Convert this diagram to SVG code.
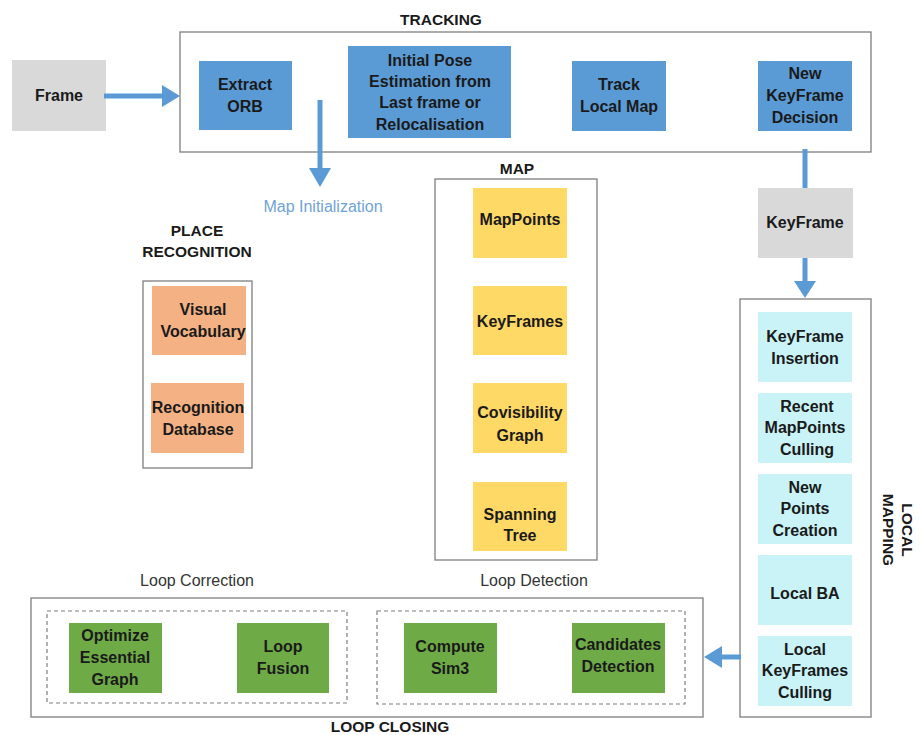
<svg xmlns="http://www.w3.org/2000/svg" width="921" height="735" viewBox="0 0 921 735">
<style>
text{font-family:"Liberation Sans",Arial,sans-serif;fill:#1a1a1a}
.b{font-weight:bold;font-size:16px;text-anchor:middle}
.h{font-weight:bold;font-size:15.5px;text-anchor:middle}
.r{font-size:16px;text-anchor:middle;fill:#333}
.frame{fill:none;stroke:#7f7f7f;stroke-width:1.3}
.dash{fill:none;stroke:#7f7f7f;stroke-width:1.2;stroke-dasharray:4 3}
.blue{fill:#5b9bd5}
.gray{fill:#d9d9d9}
.yel{fill:#ffd966}
.sal{fill:#f4b183}
.cyan{fill:#c9f3f7}
.green{fill:#6eab46}
.arr{stroke:#5b9bd5;stroke-width:5;fill:none}
.ah{fill:#5b9bd5}
</style>

<!-- containers -->
<g id="tracking">
<rect class="frame" x="180" y="32" width="691" height="120"/>
<text class="h" x="441" y="25">TRACKING</text>
</g>
<g id="map">
<rect class="frame" x="435" y="179" width="162" height="381"/>
<text class="h" x="517" y="174">MAP</text>
</g>
<g id="place-recognition">
<rect class="frame" x="143" y="281" width="109" height="187"/>
<text class="h" x="197" y="236">PLACE</text>
<text class="h" x="197" y="257">RECOGNITION</text>
</g>
<g id="local-mapping">
<rect class="frame" x="740" y="299" width="131" height="418"/>
<text class="h" transform="translate(907,530) rotate(90)" y="5">LOCAL</text>
<text class="h" transform="translate(888,530) rotate(90)" y="5">MAPPING</text>
</g>
<g id="loop-closing">
<rect class="frame" x="31" y="598" width="672" height="119"/>
<text class="h" x="390" y="732">LOOP CLOSING</text>
</g>
<g id="loop-correction">
<rect class="dash" x="47" y="611" width="300" height="92"/>
<text class="r" x="197" y="586">Loop Correction</text>
</g>
<g id="loop-detection">
<rect class="dash" x="377" y="611" width="308" height="93"/>
<text class="r" x="534" y="586">Loop Detection</text>
</g>

<!-- nodes -->
<g id="frame"><rect class="gray" x="12" y="60" width="94" height="71"/><text class="b" x="59" y="101">Frame</text></g>
<g id="extract-orb"><rect class="blue" x="199" y="61" width="93" height="69"/><text class="b" x="245" y="90">Extract</text><text class="b" x="245" y="112">ORB</text></g>
<g id="initial-pose"><rect class="blue" x="348" y="46" width="163" height="92"/>
<text class="b" x="430" y="66">Initial Pose</text><text class="b" x="430" y="87">Estimation from</text><text class="b" x="430" y="108">Last frame or</text><text class="b" x="430" y="130">Relocalisation</text></g>
<g id="track-local-map"><rect class="blue" x="572" y="61" width="94" height="70"/><text class="b" x="619" y="90">Track</text><text class="b" x="619" y="112">Local Map</text></g>
<g id="new-keyframe-decision"><rect class="blue" x="758" y="61" width="94" height="70"/><text class="b" x="805" y="79">New</text><text class="b" x="805" y="101">KeyFrame</text><text class="b" x="805" y="123">Decision</text></g>
<g id="keyframe"><rect class="gray" x="758" y="188" width="95" height="70"/><text class="b" x="805" y="228">KeyFrame</text></g>

<g id="mappoints"><rect class="yel" x="473" y="188" width="94" height="70"/><text class="b" x="520" y="225">MapPoints</text></g>
<g id="keyframes"><rect class="yel" x="473" y="286" width="94" height="69"/><text class="b" x="520" y="327">KeyFrames</text></g>
<g id="covisibility"><rect class="yel" x="473" y="383" width="94" height="70"/><text class="b" x="520" y="418">Covisibility</text><text class="b" x="520" y="441">Graph</text></g>
<g id="spanning-tree"><rect class="yel" x="473" y="482" width="94" height="69"/><text class="b" x="520" y="520">Spanning</text><text class="b" x="520" y="541">Tree</text></g>

<g id="visual-vocabulary"><rect class="sal" x="152" y="286" width="94" height="69"/><text class="b" x="203" y="315">Visual</text><text class="b" x="203" y="337">Vocabulary</text></g>
<g id="recognition-database"><rect class="sal" x="151" y="383" width="93" height="70"/><text class="b" x="198" y="413">Recognition</text><text class="b" x="198" y="435">Database</text></g>

<g id="keyframe-insertion"><rect class="cyan" x="758" y="312" width="94" height="70"/><text class="b" x="805" y="342">KeyFrame</text><text class="b" x="805" y="364">Insertion</text></g>
<g id="recent-mappoints-culling"><rect class="cyan" x="758" y="393" width="94" height="70"/><text class="b" x="807" y="412">Recent</text><text class="b" x="805" y="433">MapPoints</text><text class="b" x="807" y="455">Culling</text></g>
<g id="new-points-creation"><rect class="cyan" x="758" y="474" width="94" height="70"/><text class="b" x="805" y="493">New</text><text class="b" x="805" y="514">Points</text><text class="b" x="805" y="536">Creation</text></g>
<g id="local-ba"><rect class="cyan" x="758" y="555" width="94" height="70"/><text class="b" x="805" y="599">Local BA</text></g>
<g id="local-keyframes-culling"><rect class="cyan" x="758" y="636" width="94" height="70"/><text class="b" x="805" y="655">Local</text><text class="b" x="805" y="676">KeyFrames</text><text class="b" x="805" y="698">Culling</text></g>

<g id="optimize-essential-graph"><rect class="green" x="69" y="623" width="93" height="70"/><text class="b" x="115" y="641">Optimize</text><text class="b" x="115" y="663">Essential</text><text class="b" x="115" y="685">Graph</text></g>
<g id="loop-fusion"><rect class="green" x="237" y="623" width="92" height="70"/><text class="b" x="283" y="652">Loop</text><text class="b" x="283" y="674">Fusion</text></g>
<g id="compute-sim3"><rect class="green" x="404" y="623" width="93" height="70"/><text class="b" x="450" y="652">Compute</text><text class="b" x="450" y="674">Sim3</text></g>
<g id="candidates-detection"><rect class="green" x="572" y="623" width="93" height="70"/><text class="b" x="618" y="650">Candidates</text><text class="b" x="618" y="672">Detection</text></g>

<!-- connectors -->
<g id="connectors">
<line class="arr" x1="104" y1="96" x2="164" y2="96"/>
<polygon class="ah" points="162,85 180,96 162,107"/>
<line class="arr" x1="320" y1="100" x2="320" y2="170"/>
<polygon class="ah" points="309,168 331,168 320,187"/>
<line class="arr" x1="805" y1="149" x2="805" y2="188"/>
<line class="arr" x1="805" y1="258" x2="805" y2="283"/>
<polygon class="ah" points="794,281 816,281 805,298"/>
<line class="arr" x1="741" y1="657" x2="720" y2="657"/>
<polygon class="ah" points="722,646 722,668 704,657"/>
<text x="323" y="212" style="font-size:16px;text-anchor:middle;fill:#6fa3d8">Map Initialization</text>
</g>
</svg>
